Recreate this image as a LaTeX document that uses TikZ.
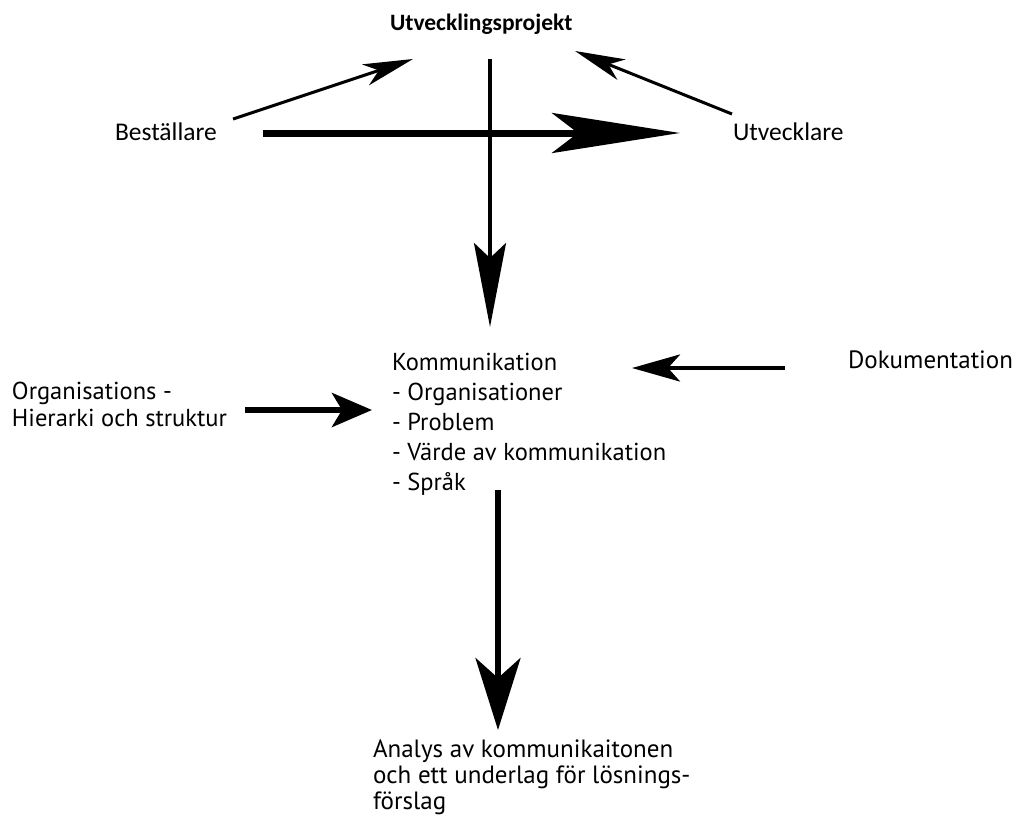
\documentclass[tikz,border=0pt]{standalone}
\usepackage{fontspec}
\usetikzlibrary{arrows.meta,calc}
\newfontfamily\fcal{Carlito}
\newfontfamily\fmy{PT Sans}
\begin{document}
\begin{tikzpicture}[x=1pt,y=-1pt,
  lbl/.style={inner sep=0pt,outer sep=0pt,anchor=base west,text=black},
  conn/.style={draw=black,line cap=butt},
]
\useasboundingbox (0,0) rectangle (1019,819);

% nodes (multi-line nodes: base = baseline of last line)
\node[lbl,font=\fcal\bfseries\fontsize{23.5}{26}\selectfont] (proj) at (390,30) {Utvecklingsprojekt};
\node[lbl,font=\fcal\fontsize{25.5}{28}\selectfont] (best) at (115,140) {Beställare};
\node[lbl,font=\fcal\fontsize{25.5}{28}\selectfont] (utv) at (733,140) {Utvecklare};
\node[lbl,font=\fmy\fontsize{24.5}{30}\selectfont,align=left] (komm) at (392,490)
  {Kommunikation\\- Organisationer\\- Problem\\- Värde av kommunikation\\- Språk};
\node[lbl,font=\fmy\fontsize{24.5}{27}\selectfont,align=left] (org) at (12,426)
  {Organisations -\\Hierarki och struktur};
\node[lbl,font=\fmy\fontsize{25}{28}\selectfont] (dok) at (848,368) {Dokumentation};
\node[lbl,font=\fmy\fontsize{25}{26}\selectfont,align=left] (ana) at (373,809)
  {Analys av kommunikaitonen\\och ett underlag för lösnings-\\förslag};

% connectors
\draw[conn,line width=3pt,-{Stealth[length=50pt,width=22pt,inset=14pt]}]
  ($(best.base west)+(118,-21)$) -- ($(proj.base west)+(23,29)$);
\draw[conn,line width=3pt,-{Stealth[length=50pt,width=22pt,inset=14pt]}]
  ($(utv.base west)+(-1,-26)$) -- ($(proj.base west)+(185,21)$);
\draw[conn,line width=7pt,-{Stealth[length=128pt,width=40pt,inset=26pt]}]
  ($(best.base west)+(148,-7)$) -- ($(utv.base west)+(-53,-7)$);
\draw[conn,line width=3.5pt,-{Stealth[length=84pt,width=32pt,inset=15pt]}]
  ($(proj.base west)+(100,29)$) -- ($(komm.base west)+(98,-163)$);
\draw[conn,line width=6pt,-{Stealth[length=40pt,width=34pt,inset=10pt]}]
  ($(org.base west)+(233,-16)$) -- ($(komm.base west)+(-20,-80)$);
\draw[conn,line width=4.5pt,-{Stealth[length=48pt,width=27pt,inset=12pt]}]
  ($(dok.base west)+(-63,0)$) -- ($(komm.base west)+(240,-122)$);
\draw[conn,line width=6pt,-{Stealth[length=72pt,width=45pt,inset=20pt]}]
  ($(komm.base west)+(106,0)$) -- ($(ana.base west)+(125,-79)$);
\end{tikzpicture}
\end{document}
